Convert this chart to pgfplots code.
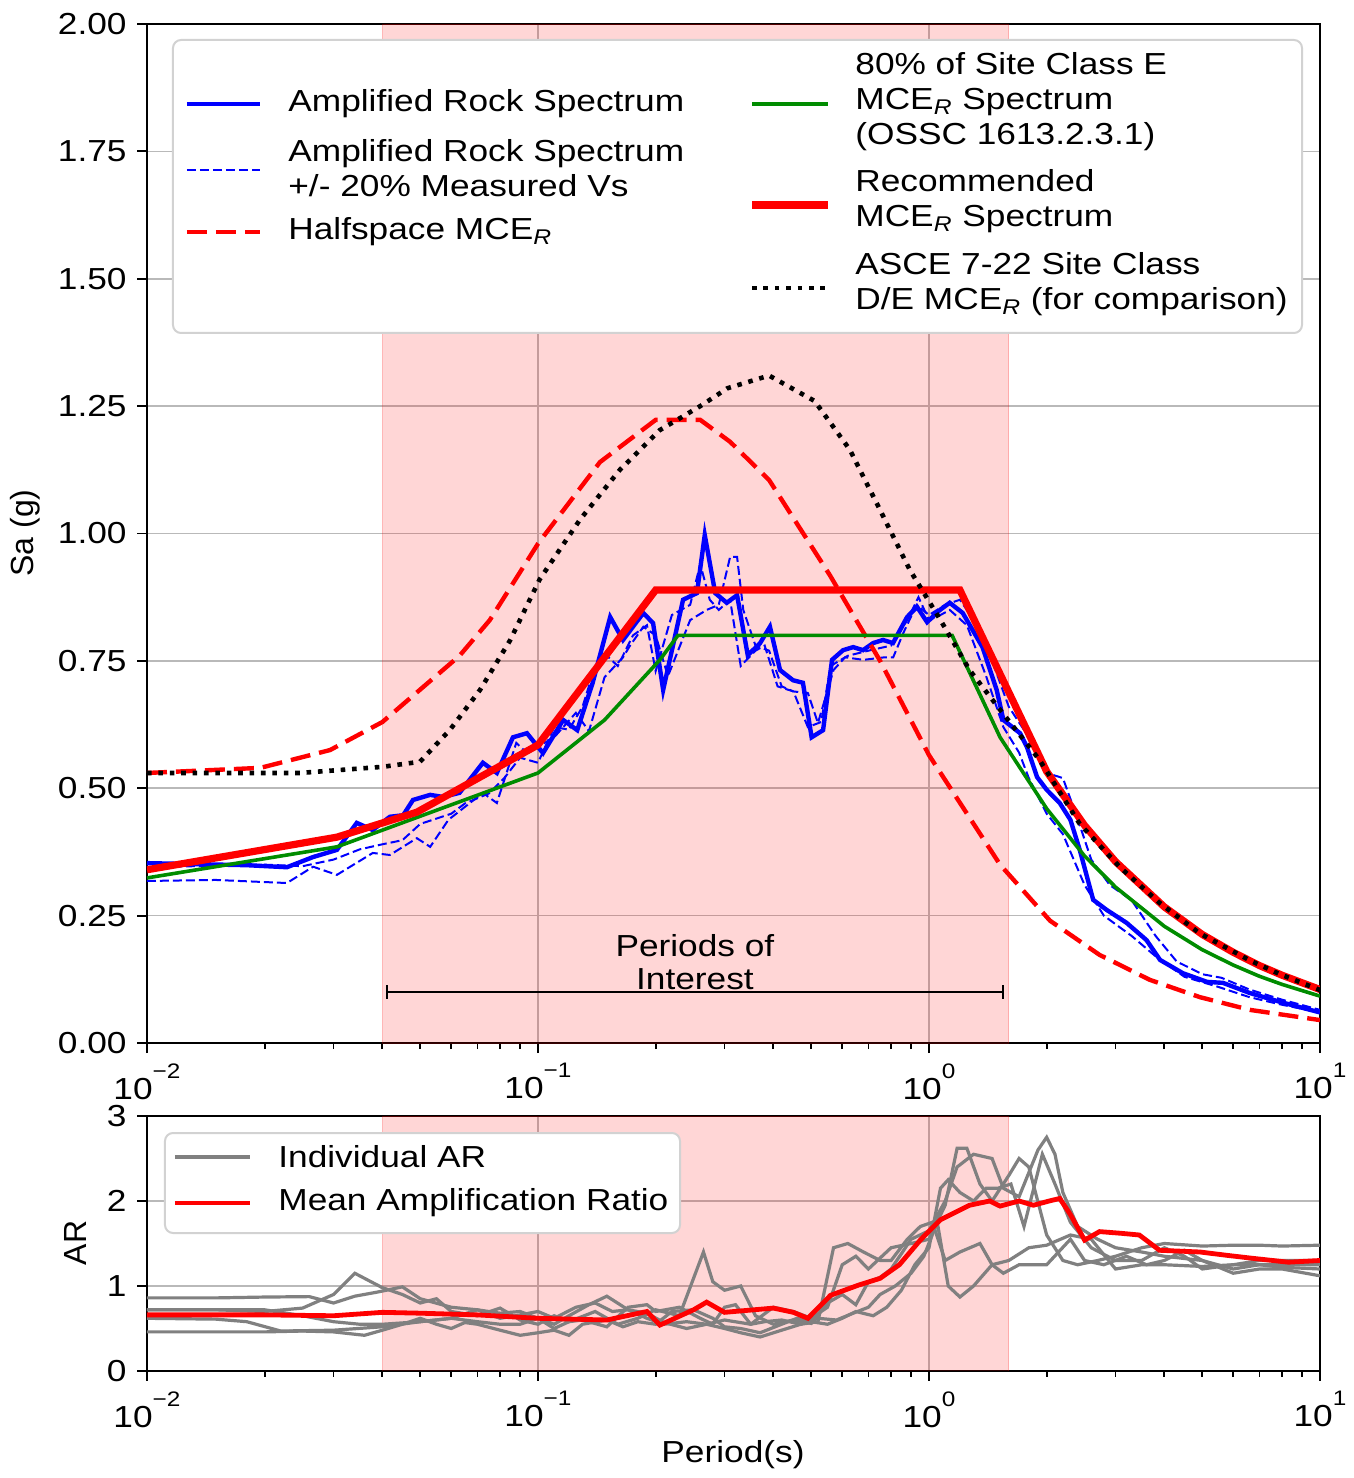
\documentclass[border=0pt]{standalone}
\usepackage{fontspec}
\setmainfont{Liberation Sans}[FakeStretch=1.16]
\newfontfamily\rotfont{Liberation Sans}
\usepackage{pgfplots}
\pgfplotsset{compat=1.18}

\newcommand{\mce}{MCE\textsubscript{\textit{R}}}
\newcommand{\tenpow}[1]{10\raisebox{10.5pt}{\fontsize{10.5}{10.5}\selectfont #1}}

\begin{document}
\fontsize{15.2}{17.5}\selectfont
\begin{tikzpicture}
\path[use as bounding box] (-73.5pt,-217.5pt) rectangle (603.5pt,521.5pt);

% ---------------- top: response spectra ----------------
\begin{axis}[at={(0pt,0pt)}, anchor=south west,
    scale only axis, width=586.5pt, height=509.5pt,
    xmode=log, xmin=0.01, xmax=10, ymin=0, ymax=2,
    tick pos=left, tick align=outside,
    major tick length=5pt, minor tick length=3pt,
    every tick/.style={black, line width=0.9pt},
    grid=major, major grid style={gray!55, line width=0.8pt},
    axis line style={line width=1.1pt},
    xtick={0.01,0.1,1,10},
    xticklabels={\tenpow{−2},\tenpow{−1},\tenpow{0},\tenpow{1}},
    ticklabel style={font=\fontsize{15.2}{17}\selectfont},
    ytick={0,0.25,0.5,0.75,1,1.25,1.5,1.75,2},
    yticklabels={0.00,0.25,0.50,0.75,1.00,1.25,1.50,1.75,2.00},
  ]
  % periods of interest
  \addplot[draw=red, draw opacity=0.2, fill=red, fill opacity=0.16]
    coordinates {(0.04,0) (1.6,0) (1.6,2) (0.04,2)} \closedcycle;

  % amplified rock spectrum
  \addplot[blue, line width=2.2pt] coordinates {
    (0.01,0.353) (0.018,0.349) (0.0228,0.345) (0.0266,0.365) (0.0306,0.379)
    (0.0344,0.432) (0.0378,0.418) (0.0418,0.444) (0.0452,0.447) (0.0479,0.477)
    (0.053,0.487) (0.0571,0.483) (0.063,0.491) (0.0723,0.55) (0.0785,0.53)
    (0.0863,0.60) (0.0937,0.608) (0.103,0.569) (0.116,0.634) (0.126,0.614)
    (0.138,0.707) (0.153,0.836) (0.165,0.791) (0.186,0.844) (0.197,0.824)
    (0.209,0.693) (0.235,0.87) (0.255,0.883) (0.267,0.997) (0.284,0.883)
    (0.304,0.864) (0.323,0.879) (0.344,0.761) (0.37,0.785) (0.392,0.817)
    (0.416,0.732) (0.449,0.712) (0.476,0.707) (0.501,0.60) (0.536,0.614)
    (0.565,0.752) (0.603,0.771) (0.64,0.777) (0.678,0.771) (0.72,0.785)
    (0.763,0.791) (0.809,0.785) (0.879,0.836) (0.932,0.856) (0.989,0.826)
    (1.067,0.85) (1.13,0.864) (1.22,0.844) (1.37,0.777) (1.49,0.693)
    (1.55,0.634) (1.71,0.608) (1.78,0.581) (1.89,0.522) (2.0,0.497)
    (2.16,0.471) (2.3,0.438) (2.43,0.379) (2.63,0.281) (2.85,0.261)
    (3.2,0.236) (3.6,0.202) (3.9,0.163) (4.46,0.137) (5.14,0.12)
    (5.65,0.118) (6.62,0.098) (8.05,0.079) (10,0.06)
  };
  % +/- 20% Vs
  \addplot[blue, line width=1pt, dash pattern=on 4.5pt off 2pt] coordinates {
    (0.01,0.318) (0.015,0.32) (0.0228,0.314) (0.0266,0.346) (0.0306,0.33)
    (0.0378,0.373) (0.0418,0.369) (0.049,0.402) (0.053,0.385) (0.059,0.438)
    (0.0723,0.491) (0.0785,0.471) (0.088,0.589) (0.0937,0.569) (0.11,0.60)
    (0.125,0.648) (0.135,0.612) (0.148,0.718) (0.165,0.757) (0.172,0.78)
    (0.186,0.817) (0.2,0.80) (0.215,0.72) (0.245,0.83) (0.27,0.85)
    (0.29,0.86) (0.31,0.954) (0.323,0.954) (0.335,0.85) (0.36,0.78)
    (0.39,0.77) (0.42,0.70) (0.45,0.69) (0.49,0.687) (0.52,0.628)
    (0.57,0.732) (0.61,0.757) (0.68,0.752) (0.77,0.757) (0.81,0.757)
    (0.86,0.805) (0.93,0.86) (1.0,0.84) (1.1,0.86) (1.2,0.87)
    (1.3,0.83) (1.45,0.75) (1.6,0.66) (1.8,0.60) (2.0,0.53)
    (2.2,0.52) (2.4,0.44) (2.6,0.36) (2.9,0.31) (3.3,0.28)
    (3.8,0.21) (4.3,0.16) (5,0.135) (5.6,0.128) (6.6,0.105) (8,0.085) (10,0.065)
  };
  \addplot[blue, line width=1pt, dash pattern=on 4.5pt off 2pt] coordinates {
    (0.01,0.345) (0.02,0.35) (0.025,0.347) (0.03,0.36) (0.035,0.38)
    (0.04,0.39) (0.045,0.398) (0.05,0.43) (0.06,0.45) (0.065,0.47)
    (0.075,0.49) (0.082,0.52) (0.09,0.56) (0.1,0.55) (0.11,0.62)
    (0.12,0.615) (0.13,0.66) (0.14,0.74) (0.15,0.76) (0.16,0.74)
    (0.175,0.80) (0.19,0.82) (0.2,0.73) (0.22,0.84) (0.245,0.86)
    (0.26,0.94) (0.275,0.87) (0.29,0.85) (0.31,0.87) (0.33,0.74)
    (0.36,0.77) (0.38,0.78) (0.41,0.70) (0.45,0.69) (0.49,0.62)
    (0.53,0.63) (0.56,0.74) (0.62,0.76) (0.7,0.77) (0.8,0.78)
    (0.88,0.83) (0.94,0.875) (1.0,0.83) (1.07,0.84) (1.13,0.85)
    (1.25,0.82) (1.4,0.72) (1.55,0.62) (1.7,0.57) (1.8,0.52)
    (2.0,0.45) (2.2,0.41) (2.5,0.31) (2.8,0.25) (3.3,0.21)
    (3.8,0.17) (4.5,0.13) (5.5,0.11) (6.6,0.09) (8,0.075) (10,0.06)
  };
  % halfspace MCE_R
  \addplot[red, line width=2.2pt, dash pattern=on 10pt off 4.5pt] coordinates {
    (0.01,0.53) (0.0195,0.54) (0.0294,0.575) (0.04,0.63) (0.063,0.76)
    (0.0753,0.83) (0.1,0.98) (0.144,1.14) (0.2,1.223) (0.26,1.223)
    (0.31,1.18) (0.39,1.105) (0.558,0.918) (0.75,0.75) (1.0,0.565)
    (1.52,0.35) (2.04,0.24) (2.73,0.173) (3.67,0.124) (4.93,0.09)
    (6.62,0.065) (10,0.045)
  };
  % 80% of site class E
  \addplot[black!45!green, line width=1.8pt] coordinates {
    (0.01,0.324) (0.0306,0.385) (0.1,0.53) (0.148,0.634) (0.205,0.752)
    (0.228,0.80) (1.146,0.80) (1.52,0.60) (2.0,0.46) (2.5,0.367)
    (3.0,0.306) (4.0,0.229) (5.0,0.183) (6.0,0.153) (7.0,0.131)
    (8.0,0.115) (10,0.092)
  };
  % recommended MCE_R
  \addplot[red, line width=3.6pt] coordinates {
    (0.01,0.34) (0.0306,0.404) (0.049,0.453) (0.1,0.585) (0.2,0.889)
    (1.2,0.889) (2.0,0.533) (2.5,0.427) (3.0,0.356) (4.0,0.267)
    (5.0,0.213) (6.0,0.178) (7.0,0.152) (8.0,0.133) (10,0.105)
  };
  % ASCE 7-22
  \addplot[black, line width=2.3pt, dash pattern=on 2.3pt off 3.4pt] coordinates {
    (0.01,0.53) (0.0246,0.53) (0.04,0.542) (0.0499,0.552) (0.0596,0.615)
    (0.0711,0.693) (0.0848,0.79) (0.101,0.91) (0.128,1.027) (0.162,1.125)
    (0.205,1.203) (0.26,1.25) (0.305,1.285) (0.39,1.31) (0.51,1.26)
    (0.628,1.164) (0.75,1.046) (0.894,0.928) (1.07,0.83) (1.27,0.732)
    (1.52,0.654) (1.92,0.555) (2.43,0.43) (3.08,0.345) (3.89,0.275)
    (4.93,0.215) (6.62,0.162) (7.9,0.135) (10,0.104)
  };
  % periods of interest bar
  \addplot[black, line width=1pt, mark=|, mark size=3.5pt,
    mark options={solid, line width=1pt}] coordinates {(0.0412,0.1) (1.55,0.1)};
  \node[align=center, inner sep=0pt, font=\fontsize{15.2}{16.5}\selectfont]
    at (axis cs:0.252,0.158) {Periods of\\Interest};
\end{axis}

% ---------------- bottom: amplification ratio ----------------
\begin{axis}[at={(0pt,-36.5pt)}, anchor=north west,
    scale only axis, width=586.5pt, height=127.5pt,
    xmode=log, xmin=0.01, xmax=10, ymin=0, ymax=3,
    tick pos=left, tick align=outside,
    major tick length=5pt, minor tick length=3pt,
    every tick/.style={black, line width=0.9pt},
    grid=major, major grid style={gray!55, line width=0.8pt},
    axis line style={line width=1.1pt},
    xtick={0.01,0.1,1,10},
    xticklabels={\tenpow{−2},\tenpow{−1},\tenpow{0},\tenpow{1}},
    ticklabel style={font=\fontsize{15.2}{17}\selectfont},
    ytick={0,1,2,3}, yticklabels={0,1,2,3},
  ]
  \addplot[draw=red, draw opacity=0.2, fill=red, fill opacity=0.16]
    coordinates {(0.04,0) (1.6,0) (1.6,3) (0.04,3)} \closedcycle;
  \addplot[gray, line width=1.6pt] coordinates {
    (0.01,0.86) (0.015,0.86) (0.02,0.87) (0.026,0.875) (0.03,0.80) (0.034,0.88)
    (0.039,0.93) (0.045,0.99) (0.05,0.85) (0.06,0.75) (0.07,0.72) (0.08,0.68)
    (0.09,0.70) (0.1,0.62) (0.11,0.55) (0.12,0.65) (0.135,0.78) (0.15,0.88)
    (0.17,0.72) (0.19,0.62) (0.21,0.55) (0.24,0.58) (0.27,0.55) (0.3,0.6)
    (0.35,0.55) (0.4,0.75) (0.45,0.70) (0.5,0.62) (0.55,0.75) (0.6,1.25)
    (0.65,1.35) (0.7,1.2) (0.8,1.45) (0.9,1.5) (1.0,1.55) (1.1,1.95)
    (1.18,2.62) (1.25,2.62) (1.35,2.2) (1.45,2.0) (1.6,2.3) (1.7,2.5)
    (1.8,2.4) (2.0,1.6) (2.2,1.3) (2.4,1.25) (2.7,1.3) (3.0,1.35)
    (3.5,1.45) (4,1.5) (5,1.47) (6,1.48) (7,1.48) (8,1.47) (10,1.48)
  };
  \addplot[gray, line width=1.6pt] coordinates {
    (0.01,0.72) (0.015,0.72) (0.02,0.70) (0.025,0.74) (0.03,0.90) (0.034,1.15)
    (0.04,0.98) (0.045,0.90) (0.05,0.80) (0.055,0.85) (0.06,0.70) (0.07,0.65)
    (0.08,0.74) (0.09,0.60) (0.1,0.55) (0.11,0.65) (0.12,0.58) (0.14,0.70)
    (0.16,0.55) (0.18,0.62) (0.2,0.72) (0.23,0.65) (0.265,1.40) (0.28,1.05)
    (0.3,0.95) (0.33,1.0) (0.36,0.65) (0.4,0.55) (0.45,0.60) (0.5,0.56)
    (0.55,0.80) (0.6,0.90) (0.65,0.78) (0.7,1.05) (0.75,1.10) (0.8,1.20)
    (0.9,1.55) (1.0,1.65) (1.1,2.0) (1.18,2.4) (1.3,2.55) (1.45,2.5)
    (1.55,2.15) (1.7,2.05) (1.9,2.6) (2.0,2.75) (2.1,2.55) (2.2,2.1)
    (2.4,1.7) (2.7,1.55) (3,1.45) (3.5,1.4) (4,1.35) (5,1.3) (6,1.2)
    (7,1.25) (8,1.22) (10,1.2)
  };
  \addplot[gray, line width=1.6pt] coordinates {
    (0.01,0.62) (0.015,0.61) (0.018,0.58) (0.022,0.47) (0.03,0.48) (0.04,0.52)
    (0.05,0.58) (0.06,0.62) (0.07,0.72) (0.08,0.62) (0.09,0.66) (0.1,0.70)
    (0.11,0.62) (0.125,0.75) (0.14,0.80) (0.155,0.70) (0.17,0.72) (0.19,0.68)
    (0.21,0.57) (0.24,0.50) (0.27,0.55) (0.3,0.50) (0.33,0.45) (0.37,0.40)
    (0.42,0.48) (0.47,0.55) (0.52,0.62) (0.58,0.60) (0.64,0.68) (0.7,0.75)
    (0.75,0.90) (0.82,1.0) (0.9,1.15) (0.97,1.35) (1.05,1.75) (1.12,1.0)
    (1.2,0.87) (1.3,1.0) (1.45,1.25) (1.6,1.3) (1.8,1.45) (2.0,1.48)
    (2.3,1.60) (2.6,1.55) (3.0,1.20) (3.5,1.25) (4,1.25) (5,1.23)
    (6,1.25) (7,1.25) (8,1.25) (10,1.25)
  };
  \addplot[gray, line width=1.6pt] coordinates {
    (0.01,0.46) (0.015,0.46) (0.02,0.46) (0.025,0.47) (0.03,0.46) (0.036,0.42)
    (0.04,0.48) (0.045,0.55) (0.05,0.62) (0.055,0.55) (0.06,0.50) (0.065,0.57)
    (0.07,0.55) (0.08,0.48) (0.09,0.42) (0.1,0.45) (0.11,0.48) (0.12,0.42)
    (0.13,0.55) (0.15,0.60) (0.165,0.52) (0.18,0.58) (0.2,0.55) (0.22,0.70)
    (0.25,0.72) (0.28,0.62) (0.3,0.52) (0.33,0.50) (0.37,0.45) (0.42,0.55)
    (0.46,0.62) (0.5,0.58) (0.55,0.55) (0.6,0.62) (0.65,0.70) (0.72,0.65)
    (0.78,0.75) (0.85,0.95) (0.92,1.25) (1.0,1.45) (1.07,2.15) (1.12,2.25)
    (1.2,2.1) (1.3,2.0) (1.4,2.15) (1.5,2.15) (1.62,2.2) (1.75,1.7)
    (1.95,2.55) (2.1,2.2) (2.3,1.75) (2.6,1.45) (3,1.3) (3.5,1.3)
    (4,1.45) (4.5,1.35) (5,1.2) (6,1.25) (7,1.3) (8,1.3) (10,1.3)
  };
  \addplot[gray, line width=1.6pt] coordinates {
    (0.01,0.72) (0.015,0.72) (0.02,0.72) (0.025,0.65) (0.03,0.58) (0.035,0.55)
    (0.04,0.55) (0.05,0.58) (0.06,0.62) (0.07,0.58) (0.08,0.55) (0.09,0.55)
    (0.1,0.62) (0.11,0.50) (0.12,0.58) (0.13,0.60) (0.15,0.52) (0.17,0.75)
    (0.19,0.78) (0.2,0.70) (0.23,0.75) (0.26,0.62) (0.28,0.55) (0.3,0.75)
    (0.32,0.78) (0.35,0.55) (0.38,0.58) (0.42,0.60) (0.47,0.55) (0.52,0.58)
    (0.57,1.45) (0.62,1.50) (0.68,1.40) (0.75,1.30) (0.8,1.30) (0.88,1.55)
    (0.95,1.70) (1.02,1.75) (1.1,1.30) (1.2,1.40) (1.35,1.50) (1.45,1.25)
    (1.55,1.15) (1.7,1.25) (2.0,1.25) (2.3,1.55) (2.5,1.3) (2.8,1.25)
    (3.2,1.35) (3.6,1.25) (4,1.3) (4.5,1.42) (5,1.3) (6,1.15) (7,1.2)
    (8,1.2) (10,1.12)
  };
  % mean amplification ratio
  \addplot[red, line width=2.4pt] coordinates {
    (0.01,0.66) (0.02,0.66) (0.03,0.65) (0.04,0.69) (0.05,0.68) (0.07,0.66)
    (0.1,0.62) (0.15,0.60) (0.19,0.70) (0.205,0.54) (0.25,0.72) (0.27,0.81)
    (0.3,0.69) (0.4,0.74) (0.45,0.69) (0.49,0.62) (0.56,0.89) (0.66,1.01)
    (0.75,1.09) (0.84,1.25) (0.95,1.54) (1.07,1.78) (1.27,1.95) (1.43,2.0)
    (1.52,1.94) (1.7,2.0) (1.85,1.95) (2.03,2.0) (2.16,2.03) (2.3,1.84)
    (2.5,1.54) (2.73,1.64) (3.1,1.62) (3.45,1.6) (3.89,1.42) (4.93,1.40)
    (5.8,1.36) (6.6,1.33) (8.3,1.28) (10,1.3)
  };
\end{axis}

% ---------------- legends ----------------
\draw[gray!35, line width=1pt, fill=white, rounded corners=4pt]
  (13pt,501.5pt) rectangle (577.5pt,355pt);
\draw[blue, line width=2.2pt] (20pt,469.5pt) -- (56.5pt,469.5pt);
\draw[blue, line width=1pt, dash pattern=on 4.5pt off 2pt] (20pt,436.5pt) -- (56.5pt,436.5pt);
\draw[red, line width=2.2pt, dash pattern=on 10pt off 4.5pt] (20pt,405.5pt) -- (56.5pt,405.5pt);
\node[anchor=west, inner sep=0pt, align=left] at (70.5pt,469.5pt) {Amplified Rock Spectrum};
\node[anchor=west, inner sep=0pt, align=left] at (70.5pt,437.25pt) {Amplified Rock Spectrum\\+/- 20\% Measured Vs};
\node[anchor=west, inner sep=0pt, align=left] at (70.5pt,405.5pt) {Halfspace \mce};
\draw[black!45!green, line width=1.8pt] (302.5pt,469.5pt) -- (340.5pt,469.5pt);
\draw[red, line width=3.6pt] (302.5pt,419pt) -- (340.5pt,419pt);
\draw[black, line width=2.3pt, dash pattern=on 2.3pt off 3.4pt] (302.5pt,377.5pt) -- (340.5pt,377.5pt);
\node[anchor=west, inner sep=0pt, align=left] at (354pt,470.75pt) {80\% of Site Class E\\\mce{} Spectrum\\(OSSC 1613.2.3.1)};
\node[anchor=west, inner sep=0pt, align=left] at (354pt,420.75pt) {Recommended\\\mce{} Spectrum};
\node[anchor=west, inner sep=0pt, align=left] at (354pt,379.25pt) {ASCE 7-22 Site Class\\D/E \mce{} (for comparison)};

\draw[gray!35, line width=1pt, fill=white, rounded corners=4pt]
  (9pt,-45pt) rectangle (266.5pt,-95pt);
\draw[gray, line width=1.6pt] (14pt,-57pt) -- (51.5pt,-57pt);
\draw[red, line width=2.4pt] (14pt,-80pt) -- (51.5pt,-80pt);
\node[anchor=west, inner sep=0pt] at (65.5pt,-57pt) {Individual AR};
\node[anchor=west, inner sep=0pt] at (65.5pt,-80pt) {Mean Amplification Ratio};

% ---------------- axis labels ----------------
\node[rotate=90, font=\rotfont\fontsize{16}{18}\selectfont] at (-61pt,255pt) {Sa (g)};
\node[rotate=90, font=\rotfont\fontsize{16}{18}\selectfont] at (-36pt,-100pt) {AR};
\node at (293pt,-206pt) {Period(s)};
\end{tikzpicture}
\end{document}
